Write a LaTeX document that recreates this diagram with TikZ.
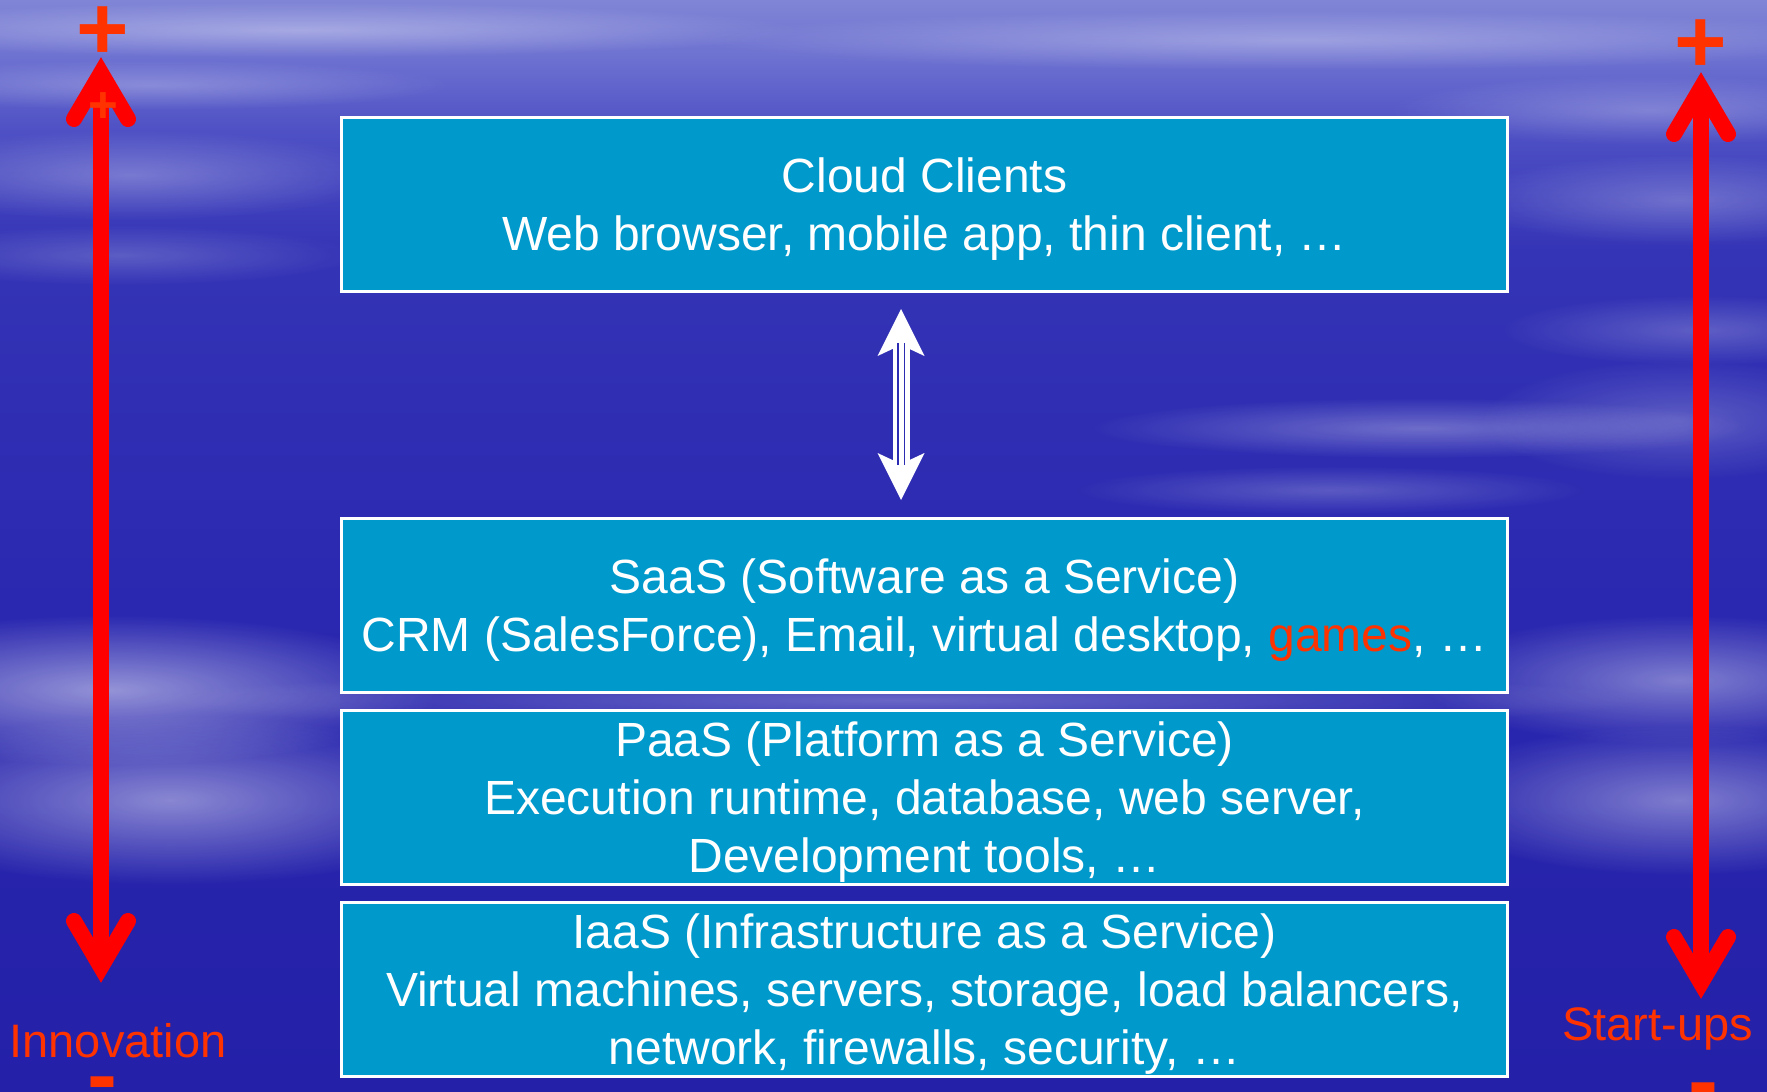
\documentclass[tikz,border=0pt]{standalone}
\usepackage{fontspec}
\setmainfont{Liberation Sans}
\usepackage{xcolor}
\usetikzlibrary{positioning, arrows.meta, fadings}
\definecolor{layerblue}{RGB}{0,153,204}
\definecolor{arrowred}{RGB}{255,0,0}
\definecolor{labelred}{RGB}{255,51,0}
\definecolor{skydeep}{RGB}{44,44,178}
\pgfdeclareverticalshading{skyshade}{100bp}{
  rgb(0bp)=(0.141,0.125,0.659);
  rgb(25bp)=(0.141,0.125,0.659);
  rgb(47.5bp)=(0.165,0.157,0.690);
  rgb(63.5bp)=(0.204,0.204,0.714);
  rgb(69bp)=(0.306,0.314,0.769);
  rgb(72.25bp)=(0.424,0.439,0.816);
  rgb(75bp)=(0.502,0.522,0.839);
  rgb(100bp)=(0.502,0.522,0.839)}
\tikzfading[name=puff, inner color=transparent!0, outer color=transparent!100]

\begin{document}
\begin{tikzpicture}[
    x=1pt, y=-1pt,
    node distance=15pt,
    layerbox/.style={rectangle, draw=white, line width=3pt, fill=layerblue, text=white, minimum width=1166pt, minimum height=174pt, inner sep=0pt, align=center, font=\fontsize{48}{58}\selectfont, text depth=-3.5pt},
    sidelabel/.style={text=labelred, font=\fontsize{47}{56}\selectfont, anchor=base, inner sep=0pt},
    signmark/.style={text=labelred, font=\fontsize{90}{96}\selectfont\bfseries, anchor=base, inner sep=0pt},
    cloudpuff/.style={fill=white, path fading=puff},
    redshaft/.style={draw=arrowred, line width=16pt},
    redbarb/.style={draw=arrowred, line width=16pt, line cap=round, line join=miter},
    linkarrow/.style={draw=white, line width=17pt, {Stealth[length=47pt, width=47pt, inset=11pt, line width=0pt]}-{Stealth[length=47pt, width=47pt, inset=11pt, line width=0pt]}},
    linkstripe/.style={draw=skydeep, line width=1.6pt}
]

% sky background
\useasboundingbox (0,0) rectangle (1767,1092);
\shade[shading=skyshade] (0,0) rectangle (1767,1092);
\begin{scope}
\clip (0,0) rectangle (1767,1092);
\fill[cloudpuff, opacity=0.35] (300,30) ellipse [x radius=500, y radius=28];
\fill[cloudpuff, opacity=0.30] (1300,40) ellipse [x radius=600, y radius=30];
\fill[cloudpuff, opacity=0.25] (150,85) ellipse [x radius=300, y radius=25];
\fill[cloudpuff, opacity=0.25] (1650,110) ellipse [x radius=260, y radius=35];
\fill[cloudpuff, opacity=0.28] (130,175) ellipse [x radius=260, y radius=45];
\fill[cloudpuff, opacity=0.20] (120,255) ellipse [x radius=240, y radius=30];
\fill[cloudpuff, opacity=0.25] (1680,200) ellipse [x radius=220, y radius=45];
\fill[cloudpuff, opacity=0.22] (1700,330) ellipse [x radius=200, y radius=35];
\fill[cloudpuff, opacity=0.30] (1420,428) ellipse [x radius=330, y radius=30];
\fill[cloudpuff, opacity=0.22] (1330,490) ellipse [x radius=260, y radius=24];
\fill[cloudpuff, opacity=0.22] (1680,420) ellipse [x radius=200, y radius=60];
\fill[cloudpuff, opacity=0.50] (110,690) ellipse [x radius=330, y radius=75];
\fill[cloudpuff, opacity=0.45] (170,800) ellipse [x radius=320, y radius=85];
\fill[cloudpuff, opacity=0.30] (900,700) ellipse [x radius=750, y radius=30];
\fill[cloudpuff, opacity=0.40] (1680,680) ellipse [x radius=260, y radius=65];
\fill[cloudpuff, opacity=0.40] (1680,800) ellipse [x radius=260, y radius=75];
\end{scope}

% service layers
\node[layerbox] (clients) at (924.5,204.5) {Cloud Clients\\Web browser, mobile app, thin client, …};
\node[layerbox, below=224pt of clients] (saas) {SaaS (Software as a Service)\\CRM (SalesForce), Email, virtual desktop, \textcolor{labelred}{games}, …};
\node[layerbox, below=of saas] (paas) {PaaS (Platform as a Service)\\Execution runtime, database, web server,\\Development tools, …};
\node[layerbox, below=of paas] (iaas) {IaaS (Infrastructure as a Service)\\Virtual machines, servers, storage, load balancers,\\network, firewalls, security, …};

% link between clients and services
\coordinate (linktop) at ([xshift=-23.5pt, yshift=-16pt]clients.south);
\coordinate (linkbot) at ([xshift=-23.5pt, yshift=17pt]saas.north);
\draw[linkarrow] (linktop) -- (linkbot);
\draw[linkstripe] ([xshift=-3.3pt, yshift=-34pt]linktop) -- ([xshift=-3.3pt, yshift=35pt]linkbot);
\draw[linkstripe] ([xshift=3.3pt, yshift=-34pt]linktop) -- ([xshift=3.3pt, yshift=35pt]linkbot);

% side scales
\coordinate (innovtop) at (101,73);
\coordinate (innovbot) at (101,967);
\coordinate (startop) at (1701,88);
\coordinate (starbot) at (1701,983);
\draw[redshaft] (innovtop) -- (innovbot);
\draw[redbarb] ([shift={(-27,46)}]innovtop) -- (innovtop) -- ([shift={(27,46)}]innovtop);
\draw[redbarb] ([shift={(-27,-46)}]innovbot) -- (innovbot) -- ([shift={(27,-46)}]innovbot);
\draw[redshaft] (startop) -- (starbot);
\draw[redbarb] ([shift={(-27,46)}]startop) -- (startop) -- ([shift={(27,46)}]startop);
\draw[redbarb] ([shift={(-27,-46)}]starbot) -- (starbot) -- ([shift={(27,-46)}]starbot);

\node[sidelabel] (innov) at (118,1057) {Innovation};
\node[sidelabel] (startups) at (1657.5,1040) {Start-ups};
\node[signmark] (innovplus) at (103,59.5) {+};
\node[signmark, font=\fontsize{51}{56}\selectfont\bfseries] (innovplusin) at (103,122) {+};
\node[signmark] (innovminus) at (102,1105) {-};
\node[signmark] (starplus) at (1701,72) {+};
\node[signmark] (starminus) at (1703,1111) {-};

\end{tikzpicture}
\end{document}
